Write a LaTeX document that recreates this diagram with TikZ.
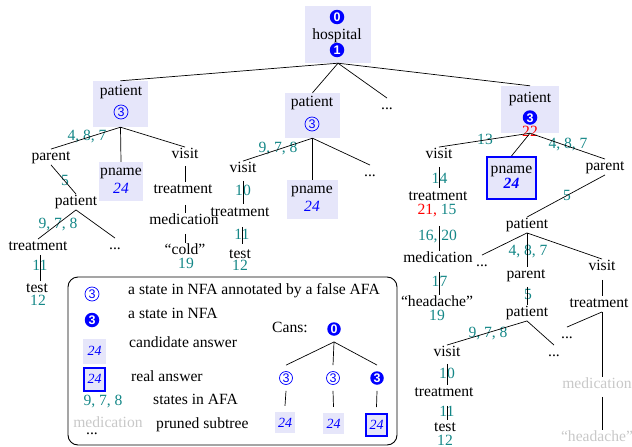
\documentclass[tikz,border=0pt]{standalone}
\usepackage{fontspec}
\setmainfont{Liberation Serif}
\newfontfamily\digfont{Liberation Sans}
\definecolor{lav}{RGB}{230,230,250}
\definecolor{tealc}{RGB}{20,135,135}
\definecolor{prun}{RGB}{200,200,200}
\newcommand\tf{\fontsize{15.6pt}{18pt}\selectfont}
\newcommand\smf{\fontsize{14pt}{16pt}\selectfont}
\newcommand\df{\digfont\fontsize{12.5pt}{13pt}\selectfont}
\begin{document}
\begin{tikzpicture}[x=1pt,y=-1pt,
 every node/.style={inner sep=1pt,font=\tf,text height=10.5pt,text depth=3pt},
 num/.style={text=tealc},
 rnum/.style={text=red},
 bx/.style={fill=lav,inner sep=0pt,text height=0pt,text depth=0pt},
 rbx/.style={bx,draw=blue,line width=2pt},
 fc/.style={circle,fill=blue,text=white,font=\df\bfseries,inner sep=0pt,minimum size=14.5pt,text height=9pt,text depth=0pt},
 oc/.style={circle,draw=blue,line width=0.7pt,text=blue,font=\df,inner sep=0pt,minimum size=14pt,text height=9pt,text depth=0pt},
 ans/.style={text=blue,font=\tf\itshape},
 sans/.style={text=blue,font=\smf\itshape},
 pr/.style={text=prun},
 ed/.style={draw,line width=0.7pt},
 lg/.style={anchor=west},
]
\useasboundingbox (0,0) rectangle (632,447);

% ---------- boxes ----------
\node[bx,minimum width=66pt,minimum height=57pt] (hosp) at (338,34.5) {};
\node[bx,minimum width=55pt,minimum height=46pt] (p1) at (120.5,104) {};
\node[bx,minimum width=44pt,minimum height=39pt] (pn1) at (121,181.5) {};
\node[bx,minimum width=55pt,minimum height=45pt] (p2) at (312.5,115.5) {};
\node[bx,minimum width=51pt,minimum height=39pt] (pn2) at (312.5,199.5) {};
\node[bx,minimum width=58pt,minimum height=47pt] (p4) at (530,109.5) {};
\node[rbx,minimum width=49pt,minimum height=42pt] (pn4) at (511.5,178) {};

% ---------- root ----------
\node[fc] (h0) at (337,17) {0};
\node (ht) at (337,36) {hospital};
\node[fc] (h1) at (337,50) {1};
\node (dots1) at (387,106) {...};

% ---------- tree 1 ----------
\node (p1t) at (121,92) {patient};
\node[oc] (p1c) at (121,112) {3};
\node (pn1t) at (121,172) {pname};
\node[ans] (pn1a) at (121,190) {24};
\node (par1) at (51,157) {parent};
\node[num] (l487a) at (87,137) {4, 8, 7};
\node (vis1) at (185,155) {visit};
\node[num] (l5a) at (65,182) {5};
\node (pat1b) at (76,202) {patient};
\node[num] (l978a) at (58,225) {9, 7, 8};
\node (trt1) at (38,247) {treatment};
\node (dots2) at (115,246) {...};
\node[num] (l11a) at (40,267) {11};
\node (test1) at (37,289) {test};
\node[num] (l12a) at (38,302) {12};
\node (trt2) at (183,190) {treatment};
\node (med1) at (184,221) {medication};
\node (cold) at (185,251) {``cold''};
\node[num] (l19a) at (186,265) {19};

% ---------- tree 2 ----------
\node (p2t) at (312,103) {patient};
\node[oc] (p2c) at (312,124) {3};
\node (pn2t) at (312,190) {pname};
\node[ans] (pn2a) at (312,208) {24};
\node (vis2) at (243,169) {visit};
\node[num] (l978b) at (278,149) {9, 7, 8};
\node (dots3) at (370,173) {...};
\node[num] (l10a) at (243,192) {10};
\node (trt3) at (240,213) {treatment};
\node[num] (l11b) at (242,236) {11};
\node (test2) at (240,255) {test};
\node[num] (l12b) at (240,267) {12};

% ---------- tree 4 ----------
\node (p4t) at (530,99) {patient};
\node[fc] (p4c) at (530,117.5) {3};
\node[rnum] (l22) at (530,133) {22};
\node (pn4t) at (511.5,170) {pname};
\node[ans,font=\tf\bfseries\itshape] (pn4a) at (511.5,185) {24};
\node (vis4) at (439,155) {visit};
\node[num] (l13) at (485,141) {13};
\node (par4) at (605,167) {parent};
\node[num] (l487b) at (568,145) {4, 8, 7};
\node[num] (l14) at (439.5,180) {14};
\node (trt4) at (438,197) {treatment};
\node (l2115) at (437,211) {\textcolor{red}{21,} \textcolor{tealc}{15}};
\node[num] (l1620) at (437.5,237) {16, 20};
\node (med4) at (438,259) {medication};
\node[num] (l17) at (439.5,283) {17};
\node (head4) at (437,303) {``headache''};
\node[num] (l19b) at (437,317) {19};
\node[num] (l5b) at (567,197) {5};
\node (pat4) at (527,225) {patient};
\node[num] (l487c) at (528,252) {4, 8, 7};
\node (dots4) at (482,263) {...};
\node (par5) at (526,275) {parent};
\node (vis5) at (602,267) {visit};
\node[num] (l5c) at (528,296) {5};
\node (pat5) at (527,313) {patient};
\node (trt5) at (599,304) {treatment};
\node (dots5) at (567,335) {...};
\node[pr] (med5) at (597,385) {medication};
\node[pr] (head5) at (597,438) {``headache''};
\node[num] (l978c) at (488,334) {9, 7, 8};
\node (vis6) at (447,353) {visit};
\node (dots6) at (554,353) {...};
\node[num] (l10b) at (447,375) {10};
\node (trt6) at (444,393) {treatment};
\node[num] (l11c) at (447,413) {11};
\node (test6) at (445,428) {test};
\node[num] (l12c) at (445,442) {12};

% ---------- legend ----------
\node[draw,rounded corners=10pt,line width=0.9pt,minimum width=329pt,minimum height=168pt,inner sep=0pt,text height=0pt,text depth=0pt] (leg) at (232.5,361) {};
\node[oc] (g1) at (92,294) {3};
\node[lg] (g1t) at (127,291) {a state in NFA annotated by a false AFA};
\node[fc] (g2) at (92,320) {3};
\node[lg] (g2t) at (127,315) {a state in NFA};
\node[bx,minimum width=23pt,minimum height=25pt] (g3) at (94.5,351.5) {};
\node[sans] (g3a) at (94.5,351.5) {24};
\node[lg] (g3t) at (128,344) {candidate answer};
\node[rbx,minimum width=21pt,minimum height=23pt] (g4) at (94.5,379.5) {};
\node[sans] (g4a) at (94.5,379.5) {24};
\node[lg] (g4t) at (130,378) {real answer};
\node[num] (g5) at (103,402) {9, 7, 8};
\node[lg] (g5t) at (152,401) {states in AFA};
\node[pr] (g6) at (108,424) {medication};
\node (g6d) at (92,431) {...};
\node[lg] (g6t) at (155,425) {pruned subtree};

\node (cans) at (290,329) {Cans:};
\node[fc,minimum size=13.5pt] (k0) at (334,329) {0};
\node[oc,minimum size=13pt] (k1) at (286,378) {3};
\node[oc,minimum size=13pt] (k2) at (333,378) {3};
\node[fc,minimum size=13.5pt] (k3) at (377,378) {3};
\node[bx,minimum width=20pt,minimum height=21pt] (b1) at (285,422.5) {};
\node[sans] (b1a) at (285,424) {24};
\node[bx,minimum width=21pt,minimum height=21pt] (b2) at (333.5,423.5) {};
\node[sans] (b2a) at (333.5,425) {24};
\node[rbx,minimum width=21pt,minimum height=22pt] (b3) at (376.5,425) {};
\node[sans] (b3a) at (376.5,425.5) {24};

% ---------- edges ----------
\path[ed] (hosp.south) -- (p1.north);
\path[ed] (hosp.south) -- (p2.north);
\path[ed] (hosp.south) -- (dots1.north);
\path[ed] (hosp.south) -- (p4.north);

\path[ed] (p1.south) -- (par1.north);
\path[ed] (p1.south) -- (pn1.north);
\path[ed] (p1.south) -- (vis1.north);
\path[ed] (par1.south) -- (pat1b.north);
\path[ed] (pat1b.south) -- (trt1.north);
\path[ed] (pat1b.south) -- (dots2.north);
\path[ed] (trt1.south -| l11a) -- (test1.north -| l11a);
\path[ed] ([yshift=-3pt]vis1.south) -- (vis1.south |- trt2.north);
\path[ed] ([yshift=-7pt]trt2.south -| vis1) -- (vis1.south |- med1.north);
\path[ed] ([yshift=-5pt]med1.south -| vis1) -- (vis1.south |- cold.north);

\path[ed] (p2.south) -- (vis2.north);
\path[ed] (p2.south) -- (pn2.north);
\path[ed] (p2.south) -- (dots3.north);
\path[ed] ([yshift=-4pt]vis2.south) -- ([yshift=1pt]vis2.south |- trt3.north);
\path[ed] ([yshift=-6pt]trt3.south -| l11b) -- ([yshift=3pt]test2.north -| l11b);

\path[ed] (p4.south) -- (vis4.north);
\path[ed] (p4.south) -- (pn4.north);
\path[ed] (p4.south) -- (par4.north);
\path[ed] ([yshift=-4pt]vis4.south) -- ([yshift=1pt]vis4.south |- trt4.north);
\path[ed] ([yshift=-21pt]trt4.south -| vis4) -- (vis4.south |- med4.north);
\path[ed] ([yshift=-5pt]med4.south -| vis4) -- (vis4.south |- head4.north);
\path[ed] (par4.south) -- (pat4.north);
\path[ed] (pat4.south) -- (dots4.north);
\path[ed] (pat4.south) -- (pat4.south |- par5.north);
\path[ed] (pat4.south) -- (vis5.north);
\path[ed] ([yshift=-4pt]par5.south -| pat4) -- (pat4.south |- pat5.north);
\path[ed] ([yshift=-5pt]vis5.south) -- (vis5.south |- trt5.north);
\path[ed] (trt5.south -| vis5) -- (dots5.north);
\path[ed] (trt5.south -| vis5) -- (vis5.south |- med5.north);
\path[ed] ([yshift=-4pt]med5.south -| vis5) -- (vis5.south |- head5.north);
\path[ed] (pat5.south) -- (vis6.north);
\path[ed] (pat5.south) -- (dots6.north);
\path[ed] ([yshift=-3pt]vis6.south) -- (vis6.south |- trt6.north);
\path[ed] ([yshift=-5pt]trt6.south -| vis6) -- (vis6.south |- test6.north);

\path[ed] ([yshift=-6pt]k0.south) -- ([yshift=6pt]k1.north);
\path[ed] ([yshift=-6pt]k0.south) -- ([yshift=6pt]k2.north);
\path[ed] ([yshift=-6pt]k0.south) -- ([yshift=6pt]k3.north);
\path[ed] ([yshift=-6pt]k1.south) -- ([yshift=6pt]b1.north);
\path[ed] ([yshift=-6pt]k2.south) -- ([yshift=6pt]b2.north);
\path[ed] ([yshift=-6pt]k3.south) -- ([yshift=6pt]b3.north);
\end{tikzpicture}
\end{document}
